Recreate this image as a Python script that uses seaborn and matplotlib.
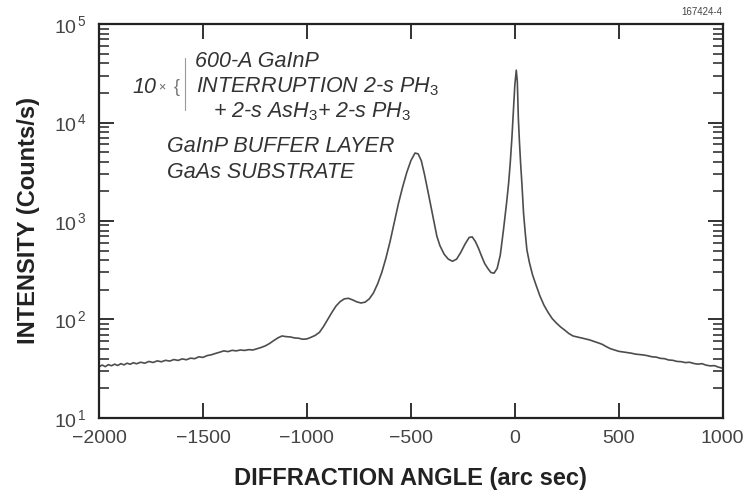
import numpy as np
import pandas as pd
import matplotlib
matplotlib.use("Agg")
import matplotlib.pyplot as plt
from matplotlib.lines import Line2D
from matplotlib.ticker import FixedLocator, NullFormatter
import seaborn as sns

# ---- data (angle in arc sec, intensity in counts/s) ----
angle = [-2000, -1985, -1970, -1955, -1940, -1925, -1910, -1895, -1880, -1865,
         -1850, -1835, -1820, -1800, -1780, -1760, -1740, -1720, -1700, -1680,
         -1660, -1640, -1620, -1600, -1580, -1560, -1540, -1520, -1500, -1480,
         -1460, -1440, -1420, -1400, -1380, -1360, -1340, -1320, -1300, -1280,
         -1260, -1240, -1220, -1200, -1180, -1160, -1140, -1120, -1100, -1080,
         -1060, -1040, -1020, -1000, -980, -960, -940, -920, -900, -880,
         -860, -840, -820, -800, -780, -760, -740, -720, -700, -680,
         -660, -640, -620, -600, -580, -560, -540, -520, -500, -480,
         -465, -450, -435, -420, -405, -390, -375, -360, -340, -320,
         -300, -280, -260, -240, -220, -205, -190, -175, -160, -145,
         -130, -115, -100, -85, -70, -55, -40, -30, -22, -14,
         -7, 0, 7, 12, 17, 22, 28, 34, 42, 50,
         58, 70, 85, 100, 120, 140, 160, 180, 200, 220,
         240, 260, 280, 300, 320, 340, 360, 380, 400, 420,
         440, 460, 480, 500, 520, 540, 560, 580, 600, 620,
         640, 660, 680, 700, 720, 740, 760, 780, 800, 820,
         840, 860, 880, 900, 920, 940, 960, 980, 1000]
intensity = [33, 34.5, 33.2, 34.8, 33.9, 35.2, 34.1, 35.6, 34.6, 36,
             35.1, 36.4, 35.5, 36.8, 36, 37.5, 36.6, 38, 37.2, 38.5,
             37.8, 39.2, 38.4, 39.8, 39, 40.5, 40, 41.8, 41.2, 43,
             43.8, 45.2, 46.5, 48, 47.2, 48.6, 48, 49, 48.5, 49.4,
             49, 50.5, 52, 54, 57, 61, 65, 68, 67, 66.5,
             65, 64.5, 63, 63.5, 66, 69, 74, 85, 100, 118,
             137, 152, 162, 164, 158, 151, 147, 150, 162, 186,
             230, 300, 420, 620, 960, 1500, 2200, 3100, 4100, 4900,
             4800, 4100, 3000, 2100, 1450, 1000, 700, 560, 460, 410,
             390, 410, 480, 580, 680, 690, 620, 530, 440, 370,
             330, 300, 295, 330, 450, 800, 1500, 2400, 3900, 7000,
             13000, 24000, 34000, 26000, 11000, 6500, 3800, 2400, 1200, 760,
             510, 380, 285, 230, 175, 140, 118, 102, 92, 84,
             78, 72, 68, 66.5, 65, 63.5, 62, 60, 58, 56,
             53, 50.5, 49, 47.5, 46.8, 46, 45.5, 44.5, 44, 43.6,
             42.8, 41.8, 41.5, 40.3, 40, 38.8, 38.5, 37.5, 37.3, 36.5,
             36.8, 35.8, 35.2, 35.6, 34.4, 33.8, 34, 32.8, 32]

x_ticks = [-2000, -1500, -1000, -500, 0, 500, 1000]
y_ticks = [10, 100, 1000, 10000, 100000]
y_tick_labels = [r"$\mathrm{10}^{\,1}$", r"$\mathrm{10}^{\,2}$", r"$\mathrm{10}^{\,3}$",
                 r"$\mathrm{10}^{\,4}$", r"$\mathrm{10}^{\,5}$"]
y_minor_ticks = [m * d for d in (10, 100, 1000, 10000) for m in range(2, 10)]

df = pd.DataFrame({"angle": angle, "intensity": intensity})

sns.set_theme(style="ticks")
plt.rcParams["font.family"] = ["Liberation Sans", "DejaVu Sans"]
plt.rcParams["mathtext.fontset"] = "custom"
plt.rcParams["mathtext.rm"] = "Liberation Sans"
plt.rcParams["mathtext.it"] = "Liberation Sans:italic"
plt.rcParams["mathtext.bf"] = "Liberation Sans:bold"

fig = plt.figure(figsize=(7.43, 4.95), dpi=100)
ax = fig.add_axes([0.1333, 0.1556, 0.8394, 0.7959])

sns.lineplot(data=df, x="angle", y="intensity", ax=ax, color="#4d4d4d",
             linewidth=1.2, estimator=None, sort=False)

ax.set_yscale("log")
ax.set_xlim(-2000, 1000)
ax.set_ylim(10, 100000)
ax.set_xticks(x_ticks)
ax.set_yticks(y_ticks)
ax.set_yticklabels(y_tick_labels)
ax.yaxis.set_minor_locator(FixedLocator(y_minor_ticks))
ax.yaxis.set_minor_formatter(NullFormatter())

for s in ax.spines.values():
    s.set_linewidth(1.6)
    s.set_color("#222222")

ax.tick_params(axis="both", which="major", direction="in", length=11, width=1.3,
               top=True, right=True, colors="#222222", labelcolor="#444444",
               labelsize=14, pad=9)
ax.yaxis.set_tick_params(which="minor", direction="in", length=7, width=1.1,
                         left=True, right=True, color="#222222")
ax.tick_params(axis="x", which="minor", bottom=False, top=False)

ax.set_xlabel("DIFFRACTION ANGLE (arc sec)", fontsize=17, fontweight="bold",
              color="#222222", labelpad=14)
ax.set_ylabel("INTENSITY (Counts/s)", fontsize=17, fontweight="bold",
              color="#222222", labelpad=10)

tcol = "#333333"
tsz = 15.5
ax.text(0.154, 0.904, "600-A GaInP", transform=ax.transAxes, fontsize=tsz,
        style="italic", color=tcol, va="center", ha="left")
ax.text(0.053, 0.840, "10", transform=ax.transAxes, fontsize=tsz,
        style="italic", color=tcol, va="center", ha="left")
ax.text(0.094, 0.840, "\u00d7", transform=ax.transAxes, fontsize=9,
        color="#666666", va="center", ha="left")
ax.text(0.120, 0.840, "{", transform=ax.transAxes, fontsize=13,
        color="#777777", va="center", ha="left")
ax.add_line(Line2D([0.138, 0.138], [0.782, 0.914], transform=ax.transAxes,
                   color="#999999", linewidth=0.8))
ax.text(0.156, 0.840, r"INTERRUPTION 2-s PH$_{\mathit{3}}$", transform=ax.transAxes,
        fontsize=tsz, style="italic", color=tcol, va="center", ha="left")
ax.text(0.183, 0.777, r"+ 2-s AsH$_{\mathit{3}}$+ 2-s PH$_{\mathit{3}}$",
        transform=ax.transAxes, fontsize=tsz, style="italic", color=tcol,
        va="center", ha="left")
ax.text(0.109, 0.688, "GaInP BUFFER LAYER", transform=ax.transAxes, fontsize=tsz,
        style="italic", color=tcol, va="center", ha="left")
ax.text(0.109, 0.622, "GaAs SUBSTRATE", transform=ax.transAxes, fontsize=tsz,
        style="italic", color=tcol, va="center", ha="left")

fig.text(0.972, 0.976, "167424-4", fontsize=7, color="#444444",
         ha="right", va="center")

fig.savefig("out.png", dpi=100, facecolor="white")
